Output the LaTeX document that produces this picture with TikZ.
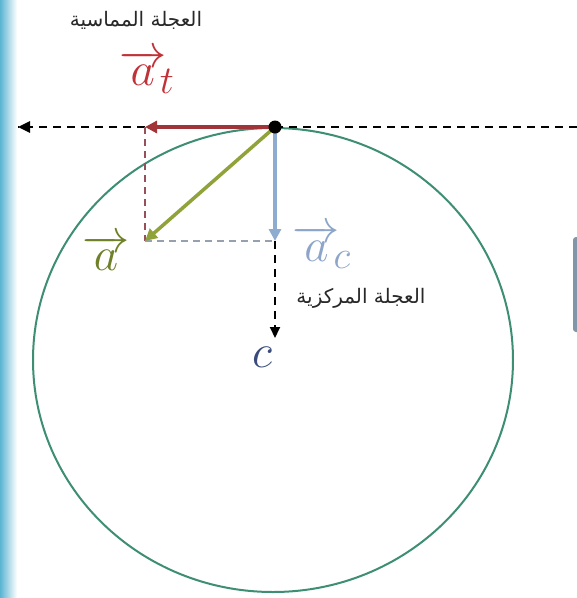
\documentclass[tikz,border=0pt]{standalone}
\usepackage{fontspec}
\newfontfamily\arabicfont[Script=Arabic]{DejaVu Sans}
\TeXXeTstate=1
\usetikzlibrary{arrows.meta}
\definecolor{circcol}{RGB}{62,142,116}
\definecolor{redarr}{RGB}{160,52,56}
\definecolor{redtxt}{RGB}{192,50,56}
\definecolor{greenarr}{RGB}{143,163,58}
\definecolor{greentxt}{RGB}{110,128,40}
\definecolor{bluearr}{RGB}{142,171,208}
\definecolor{bluetxt}{RGB}{140,165,200}
\definecolor{ctxt}{RGB}{58,74,122}
\definecolor{reddash}{RGB}{150,80,90}
\definecolor{graydash}{RGB}{150,160,175}
\definecolor{stripcol}{RGB}{90,180,210}
\definecolor{tabcol}{RGB}{130,150,170}
\definecolor{arabtxt}{RGB}{40,40,40}
\tikzset{
  vecarr/.style={line width=3.5pt,-{Triangle[length=12pt,width=12pt]}},
  blackdash/.style={line width=2pt,dash pattern=on 8pt off 6pt,black},
  thindash/.style={line width=1.6pt,dash pattern=on 7pt off 5pt},
  arablabel/.style={font=\arabicfont\fontsize{20}{24}\selectfont,text=arabtxt,inner sep=0pt},
  mathlabel/.style={font=\Huge,inner sep=0pt}
}
\newcommand{\mybigmath}[1]{\scalebox{1.9}{$#1$}}
\begin{document}
\begin{tikzpicture}[x=1pt,y=-1pt]
\useasboundingbox (0,0) rectangle (577,598);
\fill[white] (0,0) rectangle (577,598);
\shade[left color=stripcol,right color=white] (0,0) rectangle (17,598);
\fill[rounded corners=3pt,fill=tabcol] (573,237) rectangle (582,332);
% points
\coordinate (P) at (275,127);
\coordinate (T) at (145,127);
\coordinate (A) at (145,241);
\coordinate (B) at (275,241);
\coordinate (L) at (18,127);
\coordinate (R) at (577,127);
\coordinate (D) at (275,338);
% circle
\draw[circcol,line width=2pt] (273,360) ellipse [x radius=240pt,y radius=232pt];
% dashed construction lines
\draw[blackdash] (P) -- (R);
\draw[blackdash] (T) -- (L);
\draw[black,line width=2.5pt,-{Triangle[length=12pt,width=11pt]}] (30,127) -- (L);
\draw[thindash,reddash] (T) -- (A);
\draw[thindash,graydash] (A) -- (B);
\draw[blackdash,-{Triangle[length=11pt,width=10pt]}] (B) -- (D);
% vectors
\draw[vecarr,redarr] (P) -- (T);
\draw[vecarr,bluearr] (P) -- (B);
\draw[vecarr,greenarr] (P) -- (A);
\fill[black] (P) circle[radius=6.5pt];
% labels
\node[arablabel] (lt) at (136,20) {\beginR العجلة المماسية\endR};
\node[arablabel] (lc) at (361,298) {\beginR العجلة المركزية\endR};
\node[mathlabel,text=redtxt] (at) at (147,72) {\mybigmath{\overrightarrow{a}_{\!t}}};
\node[mathlabel,text=bluetxt] (ac) at (322,247) {\mybigmath{\overrightarrow{a}_{\!c}}};
\node[mathlabel,text=greentxt] (ag) at (106,253) {\mybigmath{\overrightarrow{a}}};
\node[mathlabel,text=ctxt] (cc) at (262,357) {\mybigmath{c}};
\end{tikzpicture}
\end{document}
